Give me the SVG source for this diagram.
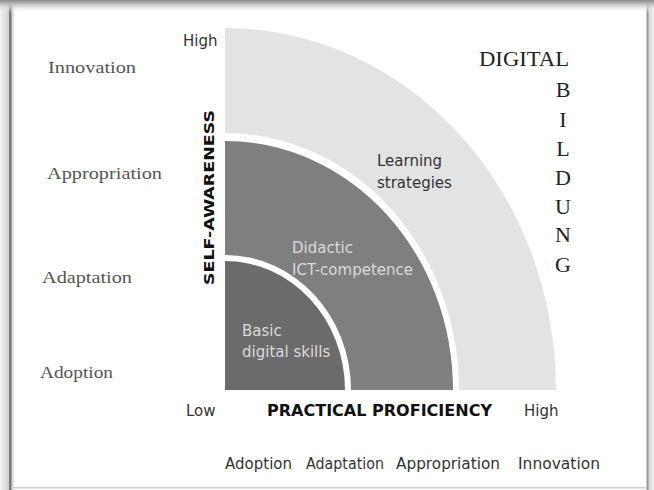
<svg xmlns="http://www.w3.org/2000/svg" width="654" height="490" viewBox="0 0 654 490">
<defs>
<linearGradient id="gTop" x1="0" y1="0" x2="0" y2="1"><stop offset="0" stop-color="#8a8a8a"/><stop offset="0.3" stop-color="#bdbdbd"/><stop offset="1" stop-color="#ffffff" stop-opacity="0"/></linearGradient>
<linearGradient id="gLeft" x1="0" y1="0" x2="1" y2="0"><stop offset="0" stop-color="#f4f4f4"/><stop offset="1" stop-color="#cfcfcf"/></linearGradient>
<linearGradient id="gLeftIn" x1="0" y1="0" x2="1" y2="0"><stop offset="0" stop-color="#bbbbbb"/><stop offset="1" stop-color="#ffffff" stop-opacity="0"/></linearGradient>
<linearGradient id="gRight" x1="0" y1="0" x2="1" y2="0"><stop offset="0" stop-color="#cfcfcf"/><stop offset="1" stop-color="#f2f2f2"/></linearGradient>
</defs>
<style>
.serif{font-family:"Liberation Serif","DejaVu Serif",serif;font-size:16px;fill:#555}
.big{font-family:"Liberation Serif","DejaVu Serif",serif;font-size:22px;fill:#222}
.sans{font-family:"DejaVu Sans","Liberation Sans",sans-serif;font-size:15px;fill:#333}
.axis{font-family:"DejaVu Sans","Liberation Sans",sans-serif;font-weight:bold;fill:#111}
.lt{fill:#dadada}
.dk{fill:#333}
</style>
<rect width="654" height="490" fill="#fff"/>
<g id="frame">
<rect x="0" y="0" width="9" height="490" fill="url(#gLeft)"/>
<rect x="11" y="0" width="6" height="490" fill="url(#gLeftIn)"/>
<rect x="9" y="0" width="2.5" height="490" fill="#7a7a7a"/>
<rect x="648" y="0" width="6" height="490" fill="url(#gRight)"/>
<rect x="646.5" y="0" width="2" height="490" fill="#9a9a9a"/>
<rect x="0" y="0" width="654" height="13" fill="url(#gTop)"/>
<rect x="11" y="487" width="636" height="1.5" fill="#d0d0d0"/>
</g>
<g id="band-learning-strategies">
<path d="M225,390 L225,28 A331,362 0 0 1 556,390 Z" fill="#e3e3e3"/>
<text class="sans dk" x="377" y="166">Learning</text>
<text class="sans dk" x="377" y="188">strategies</text>
</g>
<g id="band-didactic">
<path d="M225,390 L225,133 A234,257 0 0 1 459,390 Z" fill="#fff"/>
<path d="M225,390 L225,141 A228,249 0 0 1 453,390 Z" fill="#7f7f7f"/>
<text class="sans lt" x="292" y="253">Didactic</text>
<text class="sans lt" x="292" y="275">ICT-competence</text>
</g>
<g id="band-basic">
<path d="M225,390 L225,255 A126,135 0 0 1 351,390 Z" fill="#fff"/>
<path d="M225,390 L225,261 A120,129 0 0 1 345,390 Z" fill="#6b6b6b"/>
<text class="sans lt" x="242" y="336">Basic</text>
<text class="sans lt" x="242" y="357">digital skills</text>
</g>
<g id="axes">
<text class="sans" x="183" y="46">High</text>
<text class="sans" x="186" y="416">Low</text>
<text class="sans" x="524" y="416">High</text>
<text class="axis" font-size="16" x="267" y="416" textLength="225" lengthAdjust="spacingAndGlyphs">PRACTICAL PROFICIENCY</text>
<text class="axis" font-size="13.5" transform="translate(214,285) rotate(-90)" x="0" y="0" textLength="175" lengthAdjust="spacingAndGlyphs">SELF-AWARENESS</text>
</g>
<g id="left-levels">
<text class="serif" x="48" y="73" textLength="88" lengthAdjust="spacingAndGlyphs">Innovation</text>
<text class="serif" x="47" y="179" textLength="115" lengthAdjust="spacingAndGlyphs">Appropriation</text>
<text class="serif" x="42" y="283" textLength="90" lengthAdjust="spacingAndGlyphs">Adaptation</text>
<text class="serif" x="40" y="378" textLength="73" lengthAdjust="spacingAndGlyphs">Adoption</text>
</g>
<g id="bottom-levels">
<text class="sans" x="225" y="469" textLength="67" lengthAdjust="spacingAndGlyphs">Adoption</text>
<text class="sans" x="306" y="469" textLength="78" lengthAdjust="spacingAndGlyphs">Adaptation</text>
<text class="sans" x="396" y="469" textLength="104" lengthAdjust="spacingAndGlyphs">Appropriation</text>
<text class="sans" x="518" y="469" textLength="82" lengthAdjust="spacingAndGlyphs">Innovation</text>
</g>
<g id="digital-bildung">
<text class="big" x="479" y="66" textLength="90" lengthAdjust="spacingAndGlyphs">DIGITAL</text>
<g text-anchor="middle">
<text class="big" x="563" y="97">B</text>
<text class="big" x="563" y="127">I</text>
<text class="big" x="563" y="156">L</text>
<text class="big" x="563" y="185">D</text>
<text class="big" x="563" y="214">U</text>
<text class="big" x="563" y="242">N</text>
<text class="big" x="563" y="272">G</text>
</g>
</g>
</svg>
